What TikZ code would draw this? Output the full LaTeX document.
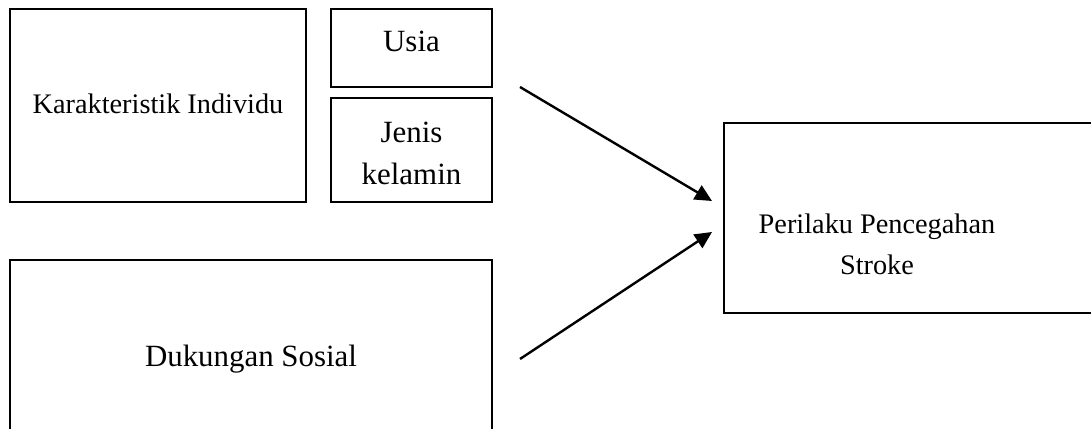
\documentclass[tikz,border=0pt]{standalone}
\usepackage{fontspec}
\setmainfont{Liberation Serif}
\usetikzlibrary{arrows.meta}
\begin{document}
\begin{tikzpicture}[x=1pt,y=-1pt,
  boxx/.style={draw,line width=2.2pt},
  big/.style={font=\fontsize{30.9}{42}\selectfont,align=center,inner sep=0pt},
  mid/.style={font=\fontsize{28.3}{41}\selectfont,align=center,inner sep=0pt},
  arr/.style={line width=2.4pt,-{Triangle[length=17pt,width=16pt]}}]
\useasboundingbox (0,0) rectangle (1091,428);
\clip (0,0) rectangle (1091,428);
\fill[white] (0,0) rectangle (1091,428);
% boxes
\draw[boxx] (10,9) rectangle (306,202);
\node (kit) [mid] at (158,104) {Karakteristik Individu};
\draw[boxx] (331,9) rectangle (492,87);
\node (usia) [big] at (411.5,41) {Usia};
\draw[boxx] (331,98) rectangle (492,202);
\node (jenis) [big] at (411.5,153) {Jenis\\kelamin};
\draw[boxx] (10,260) rectangle (492,445);
\node (duk) [big] at (251,359) {Dukungan Sosial};
\draw[boxx] (724,123) rectangle (1110,313);
\node (per) [mid] at (877,244) {Perilaku Pencegahan\\Stroke};
% arrows
\coordinate (a1s) at (520,87);
\coordinate (a1e) at (712,201);
\coordinate (a2s) at (520,359);
\coordinate (a2e) at (712,232);
\draw[arr] (a1s) -- (a1e);
\draw[arr] (a2s) -- (a2e);
\end{tikzpicture}
\end{document}
